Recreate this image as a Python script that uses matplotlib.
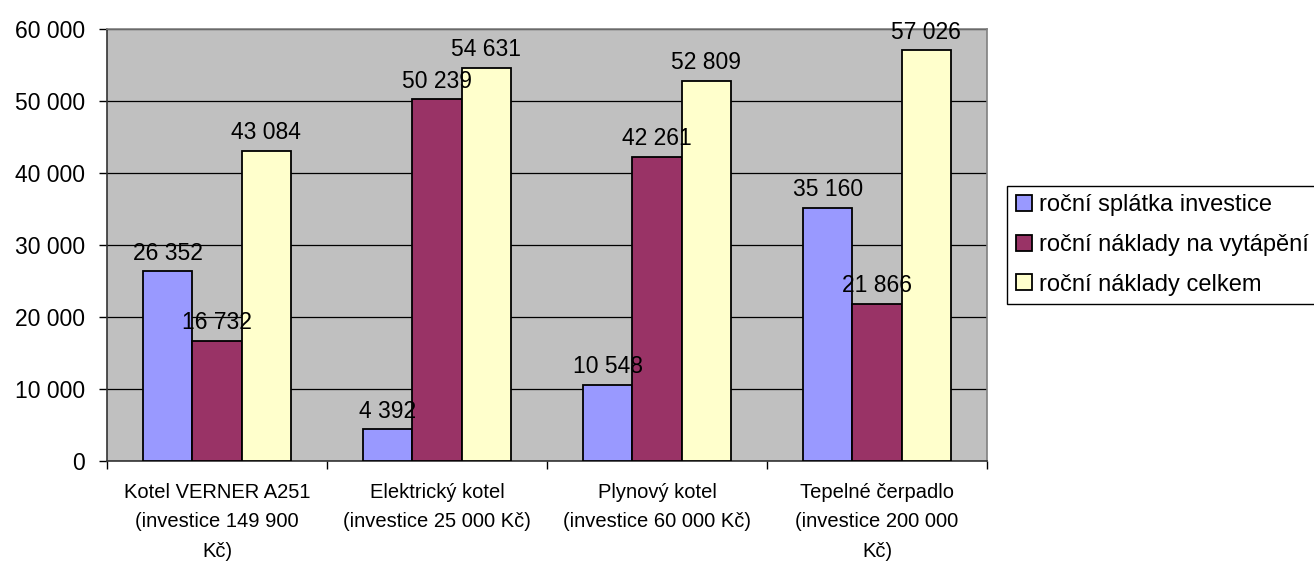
import matplotlib.pyplot as plt
import numpy as np
from matplotlib.lines import Line2D
from matplotlib.ticker import FuncFormatter, FixedLocator

plt.rcParams['font.family'] = ['Liberation Sans', 'DejaVu Sans']

categories = ['Kotel VERNER A251\n(investice 149 900\nKč)',
              'Elektrický kotel\n(investice 25 000 Kč)',
              'Plynový kotel\n(investice 60 000 Kč)',
              'Tepelné čerpadlo\n(investice 200 000\nKč)']
series_names = ['roční splátka investice', 'roční náklady na vytápění', 'roční náklady celkem']
splatka = [26352, 4392, 10548, 35160]
vytapeni = [16732, 50239, 42261, 21866]
celkem = [43084, 54631, 52809, 57026]
colors = ['#9999FF', '#993366', '#FFFFCC']

def fmt(v):
    return '{:,}'.format(int(v)).replace(',', ' ')

fig = plt.figure(figsize=(13.14, 5.62), dpi=100)
ax = fig.add_axes([107 / 1314, 1 - 461 / 562, 880 / 1314, 432 / 562])
ax.set_facecolor('#C0C0C0')

x = np.arange(len(categories))
w = 0.224
for k, vals in enumerate([splatka, vytapeni, celkem]):
    pos = x + (k - 1) * w
    ax.bar(pos, vals, w, color=colors[k], edgecolor='black', linewidth=1.3, zorder=3)
    for p, v in zip(pos, vals):
        ax.annotate(fmt(v), (p, v), xytext=(0, 13), textcoords='offset points',
                    ha='center', va='center', fontsize=16.5, zorder=4)

ax.set_xlim(-0.5, len(categories) - 0.5)
ax.set_ylim(0, 60000)
ax.set_yticks(np.arange(0, 60001, 10000))
ax.yaxis.set_major_formatter(FuncFormatter(lambda v, p: fmt(v)))
ax.yaxis.grid(True, color='black', linewidth=0.9, zorder=1)
ax.tick_params(axis='y', labelsize=16.5, length=6, width=1, direction='out', pad=10)

ax.set_xticks(x)
ax.set_xticklabels(categories, fontsize=14.5, linespacing=1.68)
ax.tick_params(axis='x', length=0, pad=16)
ax.xaxis.set_minor_locator(FixedLocator(np.arange(-0.5, len(categories), 1.0)))
ax.tick_params(axis='x', which='minor', length=6, width=1, direction='out')

for s in ['left', 'bottom']:
    ax.spines[s].set_color('#333333')
    ax.spines[s].set_linewidth(1.2)
for s in ['top', 'right']:
    ax.spines[s].set_color('#808080')
    ax.spines[s].set_linewidth(1.2)

handles = [Line2D([0], [0], marker='s', linestyle='none', markersize=12,
                  markerfacecolor=c, markeredgecolor='black', markeredgewidth=1.3)
           for c in colors]
leg = fig.legend(handles, series_names, loc='center left',
                 bbox_to_anchor=(1007 / 1314, 1 - 245 / 562), fontsize=17,
                 frameon=True, fancybox=False, edgecolor='black', framealpha=1,
                 handlelength=0.7, handletextpad=0.3, labelspacing=0.75,
                 borderpad=0.35, borderaxespad=0)
leg.get_frame().set_linewidth(1.0)

fig.savefig('out.png', dpi=100)
